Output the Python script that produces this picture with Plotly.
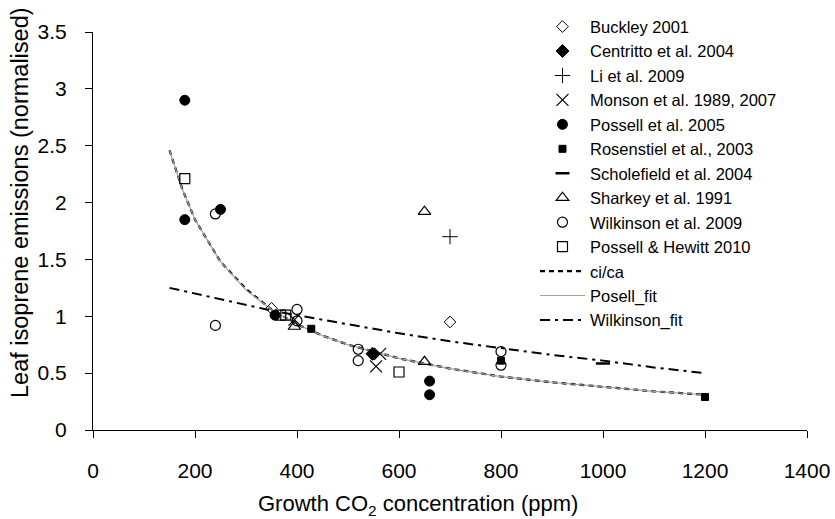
import plotly.graph_objects as go

# ---- data ----
buckley_x = [350, 700]
buckley_y = [1.07, 0.95]
centritto_x = [548]
centritto_y = [0.67]
li_x = [700]
li_y = [1.70]
monson_x = [395, 563, 555]
monson_y = [0.97, 0.67, 0.56]
possell05_x = [180, 180, 250, 357, 660, 660]
possell05_y = [2.90, 1.85, 1.94, 1.01, 0.43, 0.31]
rosenstiel_x = [428, 800, 1200]
rosenstiel_y = [0.89, 0.61, 0.29]
scholefield_x = [1000]
scholefield_y = [0.585]
sharkey_x = [395, 650, 650]
sharkey_y = [0.91, 1.92, 0.60]
wilkinson_x = [240, 240, 400, 400, 520, 520, 800, 800]
wilkinson_y = [1.90, 0.92, 1.06, 0.96, 0.71, 0.61, 0.69, 0.57]
ph2010_x = [180, 368, 378, 600]
ph2010_y = [2.21, 1.01, 1.01, 0.51]

fit_x = [150, 175, 200, 250, 300, 350, 400, 450, 500, 600, 700, 800, 900, 1000, 1100, 1200]
cica_y = [2.46, 2.12, 1.85, 1.48, 1.24, 1.06, 0.93, 0.83, 0.75, 0.63, 0.54, 0.47, 0.42, 0.38, 0.34, 0.31]
posell_fit_y = [2.46, 2.12, 1.85, 1.48, 1.23, 1.06, 0.93, 0.83, 0.75, 0.63, 0.54, 0.47, 0.42, 0.38, 0.34, 0.31]
wilk_fit_x = [150, 250, 350, 400, 500, 600, 700, 800, 900, 1000, 1100, 1200]
wilk_fit_y = [1.25, 1.15, 1.05, 1.01, 0.93, 0.85, 0.78, 0.72, 0.66, 0.61, 0.55, 0.50]

FONT = "Arial, Liberation Sans, sans-serif"

fig = go.Figure()

def pts(name, x, y, symbol, size, color="black", lw=1, fill=None):
    mk = dict(symbol=symbol, size=size, color=fill if fill else color,
              line=dict(color=color, width=lw))
    fig.add_trace(go.Scatter(x=x, y=y, mode="markers", name=name, marker=mk,
                             legendgroup=name))

# fit lines drawn first (markers on top), legend ranks placed after markers
fig.add_trace(go.Scatter(x=fit_x, y=cica_y, mode="lines", name="ci/ca",
                         line=dict(color="black", width=2.2, dash="5px,4px"),
                         legendgroup="ci/ca", legendrank=1011))
fig.add_trace(go.Scatter(x=fit_x, y=posell_fit_y, mode="lines", name="Posell_fit",
                         line=dict(color="#a0a0a0", width=1.2),
                         legendgroup="Posell_fit", legendrank=1012))
fig.add_trace(go.Scatter(x=wilk_fit_x, y=wilk_fit_y, mode="lines", name="Wilkinson_fit",
                         line=dict(color="black", width=2, dash="10px,5px,3px,5px"),
                         legendgroup="Wilkinson_fit", legendrank=1013))

pts("Buckley 2001", buckley_x, buckley_y, "diamond-open", 9)
pts("Centritto et al. 2004", centritto_x, centritto_y, "diamond", 10)
pts("Li et al. 2009", li_x, li_y, "cross-thin", 11, lw=1)
pts("Monson et al. 1989, 2007", monson_x, monson_y, "x-thin", 12, lw=1.2)
pts("Possell et al. 2005", possell05_x, possell05_y, "circle", 10)
pts("Rosenstiel et al., 2003", rosenstiel_x, rosenstiel_y, "square", 7)
pts("Scholefield et al. 2004", scholefield_x, scholefield_y, "line-ew", 10, lw=2.5)
pts("Sharkey et al. 1991", sharkey_x, sharkey_y, "triangle-up-open", 11, lw=1.2)
pts("Wilkinson et al. 2009", wilkinson_x, wilkinson_y, "circle-open", 10, lw=1.2)
pts("Possell & Hewitt 2010", ph2010_x, ph2010_y, "square-open", 10, lw=1.2)

for i, tr in enumerate(fig.data[3:]):
    tr.legendrank = 1000 + i

axis_common = dict(showline=True, linecolor="black", linewidth=1, ticks="outside",
                   ticklen=7, tickcolor="black", showgrid=False, zeroline=False,
                   automargin=False,
                   tickfont=dict(family=FONT, size=21, color="black"))

fig.update_layout(
    width=835, height=519,
    margin=dict(l=93, r=28, t=32, b=89, autoexpand=False),
    paper_bgcolor="white", plot_bgcolor="white",
    font=dict(family=FONT, color="black"),
    xaxis=dict(range=[0, 1400], tickvals=[0, 200, 400, 600, 800, 1000, 1200, 1400],
               ticklabelstandoff=15, **axis_common),
    yaxis=dict(range=[0, 3.5], tickvals=[0, 0.5, 1, 1.5, 2, 2.5, 3, 3.5],
               ticktext=["0", "0.5", "1", "1.5", "2", "2.5", "3", "3.5"],
               ticklabelstandoff=14, **axis_common),
    showlegend=True,
    legend=dict(x=0.6407, y=0.982, xref="container", yref="container",
                xanchor="left", yanchor="top",
                font=dict(family=FONT, size=16.5, color="black"),
                bgcolor="rgba(0,0,0,0)", tracegroupgap=0, itemwidth=45,
                traceorder="normal", maxheight=480),
    annotations=[
        dict(text="Growth CO<sub>2</sub> concentration (ppm)", xref="paper", yref="paper",
             x=(418 - 93) / 714, y=(430 - 505) / 398, showarrow=False,
             font=dict(family=FONT, size=22, color="black"), xanchor="center", yanchor="middle"),
        dict(text="Leaf isoprene emissions (normalised)", xref="paper", yref="paper",
             x=(20 - 93) / 714, y=(430 - 203) / 398, showarrow=False, textangle=-90,
             font=dict(family=FONT, size=23.5, color="black"), xanchor="center", yanchor="middle"),
    ],
)

fig.write_html("out.html", post_script="document.body.style.margin='0';",
               config={"displayModeBar": False})
